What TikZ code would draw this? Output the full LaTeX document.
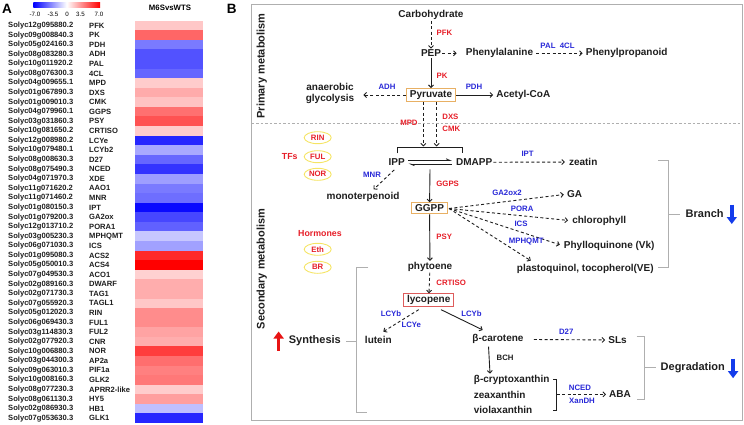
\documentclass[tikz,border=0pt]{standalone}
\usepackage{fontspec}
\setmainfont{Liberation Sans}
\usetikzlibrary{arrows.meta,calc,shapes.geometric}
\definecolor{tred}{RGB}{230,30,40}
\definecolor{tblue}{RGB}{40,40,215}
\definecolor{boxor}{RGB}{232,176,100}
\definecolor{boxred}{RGB}{222,92,92}
\definecolor{ellyel}{RGB}{245,228,100}
\definecolor{frm}{RGB}{175,175,175}
\definecolor{ink}{RGB}{30,30,30}
\definecolor{bigblue}{RGB}{20,60,235}
\definecolor{bigred}{RGB}{232,20,20}
\begin{document}
\begin{tikzpicture}[x=1pt,y=-1pt,
  main/.style={font=\fontsize{10}{11.4}\selectfont\bfseries, text=ink, inner sep=1pt},
  big/.style={font=\fontsize{11}{13}\selectfont\bfseries, text=ink, inner sep=1pt},
  enz/.style={font=\fontsize{7.8}{9}\selectfont\bfseries, inner sep=0.5pt},
  ered/.style={enz, text=tred},
  eblue/.style={enz, text=tblue},
  eblack/.style={enz, text=ink},
  gene/.style={font=\fontsize{7.6}{9}\selectfont\bfseries, text=ink, inner sep=0pt, anchor=west},
  arr/.style={draw=ink, line width=0.9pt, -{Straight Barb[length=2.5pt,width=5pt]}},
  darr/.style={arr, dash pattern=on 3pt off 2.4pt},
  brk/.style={draw=frm, line width=0.8pt},
  obox/.style={main, draw=boxor, line width=1pt, fill=white, inner xsep=3.5pt, inner ysep=2pt},
  rbox/.style={main, draw=boxred, line width=1pt, fill=white, inner xsep=3.5pt, inner ysep=1.5pt},
  ell/.style={ellipse, draw=ellyel, line width=0.9pt, minimum width=27pt, minimum height=12pt, inner sep=0pt, font=\fontsize{7.8}{9}\selectfont\bfseries, text=tred},
  blk/.style={line width=3.6pt, -{Triangle[length=7pt,width=10pt]}}
]
\useasboundingbox (0,0) rectangle (744,425);

% ---------------- Panel A ----------------
\node[font=\fontsize{13.5}{15}\selectfont\bfseries, inner sep=0pt] (labA) at (7,8.6) {A};
\shade[left color=blue, right color=red, middle color=white] (33.3,2.7) rectangle (100,7.5);
\foreach \t/\xx [count=\k] in {-7.0/35,-3.5/53,0/67,3.5/80.5,7.0/99}{
  \node[font=\fontsize{6.2}{7}\selectfont, inner sep=0pt] (tick\k) at (\xx,14.7) {\t};
}
\node[font=\fontsize{7.8}{9}\selectfont\bfseries, inner sep=0pt] (colhead) at (170,7.5) {M6SvsWTS};

\foreach \id/\nm/\c [count=\i from 0] in {
Solyc12g095880.2/PFK/red!22,
Solyc09g008840.3/PK/red!60,
Solyc05g024160.3/PDH/blue!52,
Solyc08g083280.3/ADH/blue!68,
Solyc10g011920.2/PAL/blue!68,
Solyc08g076300.3/4CL/blue!60,
Solyc04g009655.1/MPD/red!20,
Solyc01g067890.3/DXS/red!33,
Solyc01g009010.3/CMK/red!24,
Solyc04g079960.1/GGPS/red!56,
Solyc03g031860.3/PSY/red!68,
Solyc10g081650.2/CRTISO/red!20,
Solyc12g008980.2/LCYe/blue!85,
Solyc10g079480.1/LCYb2/blue!34,
Solyc08g008630.3/D27/blue!60,
Solyc08g075490.3/NCED/blue!80,
Solyc04g071970.3/XDE/blue!38,
Solyc11g071620.2/AAO1/blue!52,
Solyc11g071460.2/MNR/blue!57,
Solyc01g080150.3/IPT/blue!96,
Solyc01g079200.3/GA2ox/blue!72,
Solyc12g013710.2/PORA1/blue!62,
Solyc03g005230.3/MPHQMT/blue!22,
Solyc06g071030.3/ICS/blue!37,
Solyc01g095080.3/ACS2/red!84,
Solyc05g050010.3/ACS4/red!100,
Solyc07g049530.3/ACO1/red!18,
Solyc02g089160.3/DWARF/red!32,
Solyc02g071730.3/TAG1/red!32,
Solyc07g055920.3/TAGL1/red!22,
Solyc05g012020.3/RIN/red!45,
Solyc06g069430.3/FUL1/red!45,
Solyc03g114830.3/FUL2/red!36,
Solyc02g077920.3/CNR/red!32,
Solyc10g006880.3/NOR/red!76,
Solyc03g044300.3/AP2a/red!57,
Solyc09g063010.3/PIF1a/red!50,
Solyc10g008160.3/GLK2/red!53,
Solyc08g077230.3/APRR2-like/red!20,
Solyc08g061130.3/HY5/red!38,
Solyc02g086930.3/HB1/blue!25,
Solyc07g053630.3/GLK1/blue!85}{
  \pgfmathsetmacro\yy{25.5+\i*9.58}
  \fill[fill=\c] (135,\yy-4.82) rectangle (203,\yy+4.82);
  \node[gene] (gid\i) at (8,\yy) {\id};
  \node[gene] (gnm\i) at (89,\yy) {\nm};
}

% ---------------- Panel B ----------------
\node[font=\fontsize{13.5}{15}\selectfont\bfseries, inner sep=0pt] (labB) at (231.7,8.6) {B};
\draw[frm, line width=0.9pt] (251.5,4) rectangle (742,420);
\draw[frm, line width=0.6pt, dash pattern=on 2.5pt off 2pt] (251.5,123.3) -- (742,123.3);
\node[big, rotate=90] (prim) at (261.7,66) {Primary metabolism};
\node[big, rotate=90] (sec) at (261.7,269) {Secondary metabolism};

% primary metabolism
\node[main] (carb) at (431,15) {Carbohydrate};
\node[main] (pep) at (431,53.3) {PEP};
\node[main] (phe) at (499.5,53.3) {Phenylalanine};
\node[main] (php) at (626.7,53.3) {Phenylpropanoid};
\node[obox] (pyr) at (431,95) {Pyruvate};
\node[main, align=center] (anae) at (330,93.5) {anaerobic\\glycolysis};
\node[main] (acoa) at (523.3,95) {Acetyl-CoA};

\draw[darr] (carb) -- (pep);
\node[ered, anchor=west] (lpfk) at (436,33.3) {PFK};
\draw[darr, shorten >=8pt] (pep) -- (phe);
\draw[darr, shorten >=2pt, shorten <=2pt] (phe) -- (php);
\node[eblue] (lpal) at (548,46.3) {PAL};
\node[eblue] (l4cl) at (567.2,46.3) {4CL};
\draw[arr] (pep) -- (pyr);
\node[ered, anchor=west] (lpk) at (436,76) {PK};
\draw[darr, shorten >=8pt] (pyr.west) -- (pyr.west -| anae.east);
\node[eblue] (ladh) at (387,87.3) {ADH};
\draw[arr, shorten >=2pt] (pyr) -- (acoa);
\node[eblue] (lpdh) at (474,87.3) {PDH};

% MEP / MVA to IPP-DMAPP
\coordinate (m1) at (423.3,146.5);
\coordinate (m2) at (436.7,146.5);
\draw[darr] (pyr.south -| m1) -- (m1);
\draw[darr] (pyr.south -| m2) -- (m2);
\node[ered, anchor=east] (lmpd) at (418.3,123.3) {MPD};
\node[ered, anchor=west] (ldxs) at (441.7,117.3) {DXS};
\node[ered, anchor=west] (lcmk) at (441.7,129) {CMK};
\coordinate (bl) at (397.7,147.8);
\coordinate (br) at (462,147.8);
\draw[ink, line width=0.9pt] ($(bl)+(0,5.5)$) -- (bl) -- (br) -- ($(br)+(0,5.5)$);

\node[main] (ipp) at (396.7,162.3) {IPP};
\node[main] (dma) at (474.2,162.3) {DMAPP};
\draw[ink, line width=0.8pt, -{Straight Barb[left,length=4pt,width=3.5pt]}] ($(ipp.east)+(2.5,-1.8)$) -- ($(dma.west)+(-3,-1.8)$);
\draw[ink, line width=0.8pt, -{Straight Barb[left,length=4pt,width=3.5pt]}] ($(dma.west)+(-3,1.6)$) -- ($(ipp.east)+(2.5,1.6)$);

\node[main] (zea) at (583.2,162) {zeatin};
\draw[darr, shorten >=3pt] (dma) -- (zea);
\node[eblue] (lipt) at (527.6,154.2) {IPT};

\node[main] (mono) at (363,197.3) {monoterpenoid};
\draw[darr] ($(ipp.south)+(-2.5,3)$) -- ($(mono.north)+(10.5,-2)$);
\node[eblue] (lmnr) at (372,175.2) {MNR};

% GGPP and branches
\coordinate (eqm) at (430,169.3);
\node[obox] (ggpp) at (429.5,208.3) {GGPP};
\draw[arr] (eqm) -- (ggpp);
\node[ered, anchor=west] (lggps) at (435.7,184.3) {GGPS};

\node[main] (ga) at (574.5,194.3) {GA};
\node[main] (chl) at (599.2,220.7) {chlorophyll};
\node[main] (phy) at (609.2,245.7) {Phylloquinone (Vk)};
\node[main] (pla) at (585.3,269) {plastoquinol, tocopherol(VE)};
\coordinate (gs) at (449,208.5);
\draw[darr, shorten >=2pt] (gs) -- (ga.west);
\draw[darr, shorten >=3pt] (gs) -- (chl.west);
\draw[darr, shorten >=3pt] (gs) -- (phy.west);
\draw[darr] (gs) -- ($(pla.north west)+(15,-2.5)$);
\node[eblue] (lga) at (507,192.6) {GA2ox2};
\node[eblue] (lpora) at (522.2,208.6) {PORA};
\node[eblue] (lics) at (521,224) {ICS};
\node[eblue] (lmph) at (526.2,242) {MPHQMT};

\coordinate (bt) at (668.3,160);
\coordinate (bb) at (668.3,267.3);
\draw[brk] ($(bt)+(-10,0)$) -- (bt) -- (bb) -- ($(bb)+(-10,0)$);
\coordinate (bm) at (668.3,214);
\draw[brk] (bm) -- ($(bm)+(11.7,0)$);
\node[big, anchor=west] (branch) at (684.5,214) {Branch};
\draw[bigblue, blk] ($(branch.east)+(7,-9.5)$) -- ($(branch.east)+(7,10)$);

% carotenoid pathway
\node[main] (phyt) at (430,266.7) {phytoene};
\draw[arr] (ggpp) -- (phyt);
\node[ered, anchor=west] (lpsy) at (435.7,236.7) {PSY};
\node[rbox] (lyc) at (428.7,300) {lycopene};
\draw[darr] (phyt) -- (lyc);
\node[ered, anchor=west] (lcrt) at (435.7,282.7) {CRTISO};

\node[main] (lut) at (378.3,340) {lutein};
\node[main] (bcar) at (498,339.3) {β-carotene};
\draw[darr] ($(lyc.south)+(-10,3)$) -- ($(lut.north)+(5,-3.5)$);
\node[eblue] (llcyb1) at (391,314) {LCYb};
\node[eblue] (llcye) at (411.3,325) {LCYe};
\draw[arr] ($(lyc.south)+(12.3,3)$) -- ($(bcar.north)+(-15.3,-3.5)$);
\node[eblue] (llcyb2) at (471.5,314) {LCYb};

\node[main] (sls) at (617.5,340) {SLs};
\draw[darr, shorten <=9pt, shorten >=2pt] (bcar) -- (sls);
\node[eblue] (ld27) at (566.2,331.7) {D27};

\node[main, anchor=west] (bcry) at (472.7,380) {β-cryptoxanthin};
\node[main, anchor=west] (zeax) at (472.7,395) {zeaxanthin};
\node[main, anchor=west] (viol) at (472.7,410) {violaxanthin};
\draw[arr] ($(bcar.south west)+(17.3,1.5)$) -- ($(bcry.north west)+(17.3,-0.5)$);
\node[eblack, anchor=west] (lbch) at (496,357.7) {BCH};

\coordinate (xt) at (556.7,379);
\coordinate (xb) at (556.7,410.5);
\draw[ink, line width=0.9pt] ($(xt)+(-3.5,0)$) -- (xt) -- (xb) -- ($(xb)+(-3.5,0)$);
\coordinate (xm) at (556.7,394.3);
\node[main] (aba) at (620,394.3) {ABA};
\draw[darr, shorten >=2pt] (xm) -- (aba);
\node[eblue] (lnced) at (580,387.7) {NCED};
\node[eblue] (lxan) at (582,401.2) {XanDH};

\coordinate (dt) at (644,336.7);
\coordinate (db) at (644,399);
\draw[brk] ($(dt)+(-7.5,0)$) -- (dt) -- (db) -- ($(db)+(-7.5,0)$);
\coordinate (dm) at (644,367.7);
\draw[brk] (dm) -- ($(dm)+(11.7,0)$);
\node[big, anchor=west] (degr) at (659.5,367.7) {Degradation};
\draw[bigblue, blk] ($(degr.east)+(7,-9)$) -- ($(degr.east)+(7,10.5)$);

\coordinate (st) at (356.7,267.7);
\coordinate (sb) at (356.7,412.7);
\draw[brk] ($(st)+(11.6,0)$) -- (st) -- (sb) -- ($(sb)+(10.6,0)$);
\coordinate (sm) at (356.7,341);
\draw[brk] (sm) -- ($(sm)+(-10.7,0)$);
\node[big, anchor=east] (synth) at (342,341) {Synthesis};
\draw[bigred, blk] ($(synth.west)+(-9,9.5)$) -- ($(synth.west)+(-9,-9.5)$);

% TFs and hormones
\node[font=\fontsize{8.8}{10}\selectfont\bfseries, text=tred, inner sep=0pt] (tfs) at (289.7,156.7) {TFs};
\node[ell] (erin) at (317.7,137.7) {RIN};
\node[ell] (eful) at (317.7,156.7) {FUL};
\node[ell] (enor) at (317.7,174.3) {NOR};
\node[font=\fontsize{8.8}{10}\selectfont\bfseries, text=tred, inner sep=0pt] (horm) at (320,233.3) {Hormones};
\node[ell] (eeth) at (317.7,249.3) {Eth};
\node[ell] (ebr) at (317.7,267.3) {BR};
\end{tikzpicture}
\end{document}
